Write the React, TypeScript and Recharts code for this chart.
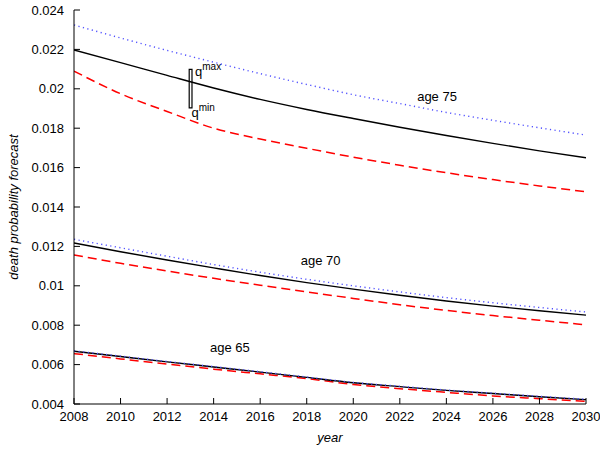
import React from 'react';
import { LineChart, Line, XAxis, YAxis, ReferenceArea, ReferenceDot } from 'recharts';

// forecast years
const years = [2008, 2010, 2012, 2014, 2016, 2018, 2020, 2022, 2024, 2026, 2028, 2030];

// age 75
const age75Max = [0.02324, 0.02258, 0.02195, 0.02135, 0.02077, 0.02022, 0.0197, 0.01925, 0.0188, 0.0184, 0.01802, 0.01765];
const age75Mid = [0.02197, 0.02133, 0.02068, 0.02004, 0.01946, 0.01895, 0.01849, 0.01805, 0.01763, 0.01723, 0.01685, 0.01650];
const age75Min = [0.0209, 0.01975, 0.01885, 0.018, 0.01745, 0.01698, 0.01653, 0.01612, 0.01574, 0.01539, 0.01507, 0.01477];

// age 70
const age70Max = [0.01236, 0.01193, 0.0115, 0.01108, 0.01069, 0.01033, 0.01, 0.00969, 0.0094, 0.00914, 0.0089, 0.00867];
const age70Mid = [0.01217, 0.01173, 0.01131, 0.01091, 0.01052, 0.01016, 0.00983, 0.00952, 0.00923, 0.00897, 0.00873, 0.00851];
const age70Min = [0.01157, 0.01114, 0.01075, 0.01038, 0.01003, 0.00969, 0.00936, 0.00904, 0.00875, 0.00849, 0.00825, 0.00802];

// age 65
const age65Max = [0.0067, 0.00643, 0.00616, 0.0059, 0.00564, 0.00537, 0.0051, 0.0049, 0.00471, 0.00455, 0.00439, 0.00424];
const age65Mid = [0.00668, 0.00641, 0.00614, 0.00588, 0.00562, 0.00535, 0.00508, 0.00488, 0.00469, 0.00453, 0.00437, 0.00422];
const age65Min = [0.00656, 0.00629, 0.00603, 0.00577, 0.00553, 0.00529, 0.00499, 0.00478, 0.00459, 0.00441, 0.00427, 0.00414];

const xTicks = [2008, 2010, 2012, 2014, 2016, 2018, 2020, 2022, 2024, 2026, 2028, 2030];
const yTicks = [0.004, 0.006, 0.008, 0.01, 0.012, 0.014, 0.016, 0.018, 0.02, 0.022, 0.024];

// q-range marker at 2013
const markerYear = 2013;
const qMax = 0.02099;
const qMin = 0.01903;

const data = years.map((year, i) => ({
  year,
  max75: age75Max[i], mid75: age75Mid[i], min75: age75Min[i],
  max70: age70Max[i], mid70: age70Mid[i], min70: age70Min[i],
  max65: age65Max[i], mid65: age65Mid[i], min65: age65Min[i],
}));

const FONT = '"Liberation Sans", Arial, Helvetica, sans-serif';
const TICK = 6;

const fmtY = (v: number) => String(Number(v.toFixed(3)));

const BottomTick = ({ x, y, payload }: any) => (
  <g>
    <line x1={x} y1={y} x2={x} y2={y - TICK} stroke="#000" />
    <text x={x} y={y + 17} textAnchor="middle" fontSize={13} fontFamily={FONT} fill="#000">
      {payload.value}
    </text>
  </g>
);

const TopTick = ({ x, y }: any) => <line x1={x} y1={y} x2={x} y2={y + TICK} stroke="#000" />;

const LeftTick = ({ x, y, payload }: any) => (
  <g>
    <line x1={x} y1={y} x2={x + TICK} y2={y} stroke="#000" />
    <text x={x - 10} y={y + 4.5} textAnchor="end" fontSize={13} fontFamily={FONT} fill="#000">
      {fmtY(payload.value)}
    </text>
  </g>
);

const RightTick = ({ x, y }: any) => <line x1={x} y1={y} x2={x - TICK} y2={y} stroke="#000" />;

const YLabel = ({ viewBox }: any) => {
  const cx = 18;
  const cy = viewBox.y + viewBox.height / 2;
  return (
    <text x={cx} y={cy} transform={`rotate(-90 ${cx} ${cy})`} textAnchor="middle"
      fontSize={13} fontStyle="italic" fontFamily={FONT} fill="#000">
      death probability forecast
    </text>
  );
};

const QLabel = (label: string) => ({ viewBox }: any) => (
  <text x={viewBox.x} y={viewBox.y} fontSize={13} fontFamily={FONT} fill="#000">
    q<tspan dy={-6} fontSize={10}>{label}</tspan>
  </text>
);

const ageLabel = (value: string) => ({ value, position: 'center' as const, fill: '#000', fontSize: 13, fontFamily: FONT });

const BLUE = '#5050ff';
const RED = '#ff0000';

const App: React.FC = () => {
  const series = (key: string, kind: 'max' | 'mid' | 'min') => {
    if (kind === 'max') {
      return <Line key={key} dataKey={key} type="monotone" stroke={BLUE} strokeWidth={1.4}
        strokeDasharray="1.2 3.4" dot={false} isAnimationActive={false} />;
    }
    if (kind === 'min') {
      return <Line key={key} dataKey={key} type="monotone" stroke={RED} strokeWidth={1.5}
        strokeDasharray="9 5" dot={false} isAnimationActive={false} />;
    }
    return <Line key={key} dataKey={key} type="monotone" stroke="#000" strokeWidth={1.4}
      dot={false} isAnimationActive={false} />;
  };

  return (
    <div style={{ width: 600, height: 449, background: '#fff' }}>
      <style>{'body{margin:0}'}</style>
      <LineChart width={600} height={449} data={data} margin={{ top: 10, right: 14, bottom: 0, left: 0 }}>
        <XAxis dataKey="year" type="number" domain={[2008, 2030]} ticks={xTicks} allowDataOverflow
          height={45} tickSize={0} tickMargin={0} tickLine={false} axisLine={{ stroke: '#000' }}
          tick={<BottomTick />} interval={0}
          label={{ value: 'year', position: 'insideBottom', offset: 7, fontStyle: 'italic', fontSize: 13, fontFamily: FONT, fill: '#000' }} />
        <XAxis xAxisId="top" orientation="top" dataKey="year" type="number" domain={[2008, 2030]} ticks={xTicks}
          height={0} tickSize={0} tickMargin={0} tickLine={false} axisLine={{ stroke: '#000' }}
          tick={<TopTick />} interval={0} />
        <YAxis type="number" domain={[0.004, 0.024]} ticks={yTicks} allowDataOverflow width={74}
          tickSize={0} tickMargin={0} tickLine={false} axisLine={{ stroke: '#000' }}
          tick={<LeftTick />} interval={0} label={{ content: <YLabel /> }} />
        <YAxis yAxisId="right" orientation="right" type="number" domain={[0.004, 0.024]} ticks={yTicks} width={0}
          tickSize={0} tickMargin={0} tickLine={false} axisLine={{ stroke: '#000' }}
          tick={<RightTick />} interval={0} />

        {series('min75', 'min')}
        {series('mid75', 'mid')}
        {series('max75', 'max')}
        {series('min70', 'min')}
        {series('mid70', 'mid')}
        {series('max70', 'max')}
        {series('min65', 'min')}
        {series('mid65', 'mid')}
        {series('max65', 'max')}

        <ReferenceArea x1={markerYear - 0.05} x2={markerYear + 0.07} y1={qMin} y2={qMax}
          fill="none" stroke="#000" strokeWidth={1.2} ifOverflow="visible" />
        <ReferenceDot x={2013.2} y={0.02065} r={0} fill="none" stroke="none" label={{ content: QLabel('max') }} />
        <ReferenceDot x={2013.05} y={0.01858} r={0} fill="none" stroke="none" label={{ content: QLabel('min') }} />

        <ReferenceDot x={2023.6} y={0.01963} r={0} fill="none" stroke="none" label={ageLabel('age 75')} />
        <ReferenceDot x={2018.6} y={0.01129} r={0} fill="none" stroke="none" label={ageLabel('age 70')} />
        <ReferenceDot x={2014.7} y={0.00687} r={0} fill="none" stroke="none" label={ageLabel('age 65')} />
      </LineChart>
    </div>
  );
};

export default App;
